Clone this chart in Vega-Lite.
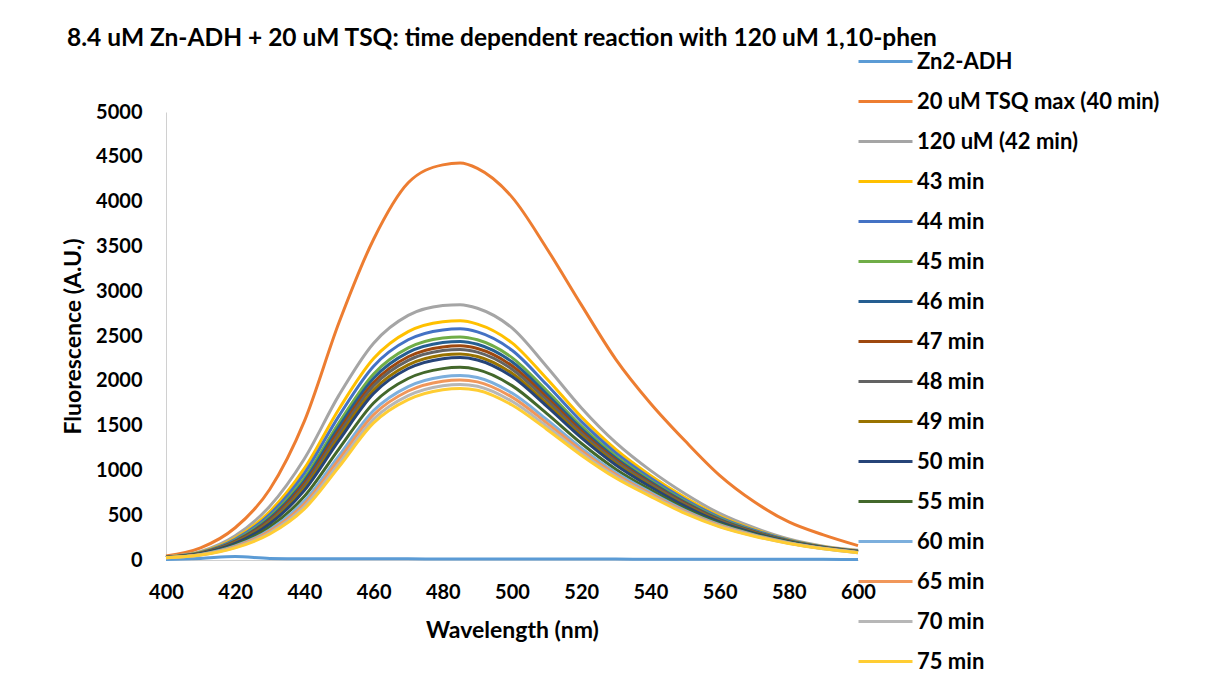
{
"$schema": "https://vega.github.io/schema/vega-lite/v6.json",
"width": 692, "height": 448,
"autosize": {"type": "none"},
"padding": {"left": 166, "top": 112, "right": 351, "bottom": 118},
"background": "white",
"title": {"text": "8.4 uM Zn-ADH + 20 uM TSQ: time dependent reaction with 120 uM 1,10-phen", "font": "Lato", "fontSize": 24.5, "fontWeight": "bold", "color": "#000000", "anchor": "middle", "frame": "group", "offset": -18, "dx": -10},
"datasets": {"spectra": [
{"s":"Zn2-ADH","w":400,"f":5},{"s":"Zn2-ADH","w":410,"f":18},{"s":"Zn2-ADH","w":420,"f":38},{"s":"Zn2-ADH","w":430,"f":18},{"s":"Zn2-ADH","w":440,"f":14},{"s":"Zn2-ADH","w":450,"f":14},{"s":"Zn2-ADH","w":460,"f":13},{"s":"Zn2-ADH","w":470,"f":13},{"s":"Zn2-ADH","w":480,"f":12},{"s":"Zn2-ADH","w":485,"f":12},{"s":"Zn2-ADH","w":490,"f":12},{"s":"Zn2-ADH","w":500,"f":11},{"s":"Zn2-ADH","w":510,"f":11},{"s":"Zn2-ADH","w":520,"f":10},{"s":"Zn2-ADH","w":530,"f":10},{"s":"Zn2-ADH","w":540,"f":9},{"s":"Zn2-ADH","w":550,"f":9},{"s":"Zn2-ADH","w":560,"f":8},{"s":"Zn2-ADH","w":570,"f":8},{"s":"Zn2-ADH","w":580,"f":7},{"s":"Zn2-ADH","w":590,"f":7},{"s":"Zn2-ADH","w":600,"f":6},
{"s":"20 uM TSQ max (40 min)","w":400,"f":45},{"s":"20 uM TSQ max (40 min)","w":410,"f":135},{"s":"20 uM TSQ max (40 min)","w":420,"f":360},{"s":"20 uM TSQ max (40 min)","w":430,"f":790},{"s":"20 uM TSQ max (40 min)","w":440,"f":1550},{"s":"20 uM TSQ max (40 min)","w":450,"f":2650},{"s":"20 uM TSQ max (40 min)","w":460,"f":3580},{"s":"20 uM TSQ max (40 min)","w":470,"f":4210},{"s":"20 uM TSQ max (40 min)","w":480,"f":4410},{"s":"20 uM TSQ max (40 min)","w":485,"f":4430},{"s":"20 uM TSQ max (40 min)","w":490,"f":4370},{"s":"20 uM TSQ max (40 min)","w":500,"f":4050},{"s":"20 uM TSQ max (40 min)","w":510,"f":3480},{"s":"20 uM TSQ max (40 min)","w":520,"f":2850},{"s":"20 uM TSQ max (40 min)","w":530,"f":2240},{"s":"20 uM TSQ max (40 min)","w":540,"f":1750},{"s":"20 uM TSQ max (40 min)","w":550,"f":1330},{"s":"20 uM TSQ max (40 min)","w":560,"f":945},{"s":"20 uM TSQ max (40 min)","w":570,"f":650},{"s":"20 uM TSQ max (40 min)","w":580,"f":425},{"s":"20 uM TSQ max (40 min)","w":590,"f":280},{"s":"20 uM TSQ max (40 min)","w":600,"f":160},
{"s":"120 uM (42 min)","w":400,"f":35},{"s":"120 uM (42 min)","w":410,"f":95},{"s":"120 uM (42 min)","w":420,"f":270},{"s":"120 uM (42 min)","w":430,"f":600},{"s":"120 uM (42 min)","w":440,"f":1130},{"s":"120 uM (42 min)","w":450,"f":1840},{"s":"120 uM (42 min)","w":460,"f":2420},{"s":"120 uM (42 min)","w":470,"f":2730},{"s":"120 uM (42 min)","w":480,"f":2840},{"s":"120 uM (42 min)","w":485,"f":2850},{"s":"120 uM (42 min)","w":490,"f":2810},{"s":"120 uM (42 min)","w":500,"f":2590},{"s":"120 uM (42 min)","w":510,"f":2160},{"s":"120 uM (42 min)","w":520,"f":1700},{"s":"120 uM (42 min)","w":530,"f":1310},{"s":"120 uM (42 min)","w":540,"f":1000},{"s":"120 uM (42 min)","w":550,"f":740},{"s":"120 uM (42 min)","w":560,"f":520},{"s":"120 uM (42 min)","w":570,"f":360},{"s":"120 uM (42 min)","w":580,"f":235},{"s":"120 uM (42 min)","w":590,"f":155},{"s":"120 uM (42 min)","w":600,"f":110},
{"s":"43 min","w":400,"f":33},{"s":"43 min","w":410,"f":87},{"s":"43 min","w":420,"f":244},{"s":"43 min","w":430,"f":540},{"s":"43 min","w":440,"f":1022},{"s":"43 min","w":450,"f":1686},{"s":"43 min","w":460,"f":2248},{"s":"43 min","w":470,"f":2549},{"s":"43 min","w":480,"f":2659},{"s":"43 min","w":485,"f":2670},{"s":"43 min","w":490,"f":2633},{"s":"43 min","w":500,"f":2424},{"s":"43 min","w":510,"f":2025},{"s":"43 min","w":520,"f":1598},{"s":"43 min","w":530,"f":1234},{"s":"43 min","w":540,"f":944},{"s":"43 min","w":550,"f":698},{"s":"43 min","w":560,"f":491},{"s":"43 min","w":570,"f":342},{"s":"43 min","w":580,"f":225},{"s":"43 min","w":590,"f":149},{"s":"43 min","w":600,"f":104},
{"s":"44 min","w":400,"f":32},{"s":"44 min","w":410,"f":83},{"s":"44 min","w":420,"f":231},{"s":"44 min","w":430,"f":510},{"s":"44 min","w":440,"f":968},{"s":"44 min","w":450,"f":1609},{"s":"44 min","w":460,"f":2163},{"s":"44 min","w":470,"f":2458},{"s":"44 min","w":480,"f":2568},{"s":"44 min","w":485,"f":2580},{"s":"44 min","w":490,"f":2546},{"s":"44 min","w":500,"f":2341},{"s":"44 min","w":510,"f":1958},{"s":"44 min","w":520,"f":1547},{"s":"44 min","w":530,"f":1196},{"s":"44 min","w":540,"f":916},{"s":"44 min","w":550,"f":676},{"s":"44 min","w":560,"f":477},{"s":"44 min","w":570,"f":333},{"s":"44 min","w":580,"f":221},{"s":"44 min","w":590,"f":146},{"s":"44 min","w":600,"f":101},
{"s":"45 min","w":400,"f":31},{"s":"45 min","w":410,"f":80},{"s":"45 min","w":420,"f":218},{"s":"45 min","w":430,"f":481},{"s":"45 min","w":440,"f":914},{"s":"45 min","w":450,"f":1532},{"s":"45 min","w":460,"f":2077},{"s":"45 min","w":470,"f":2368},{"s":"45 min","w":480,"f":2478},{"s":"45 min","w":485,"f":2490},{"s":"45 min","w":490,"f":2458},{"s":"45 min","w":500,"f":2259},{"s":"45 min","w":510,"f":1891},{"s":"45 min","w":520,"f":1496},{"s":"45 min","w":530,"f":1158},{"s":"45 min","w":540,"f":888},{"s":"45 min","w":550,"f":655},{"s":"45 min","w":560,"f":462},{"s":"45 min","w":570,"f":323},{"s":"45 min","w":580,"f":216},{"s":"45 min","w":590,"f":143},{"s":"45 min","w":600,"f":98},
{"s":"46 min","w":400,"f":31},{"s":"46 min","w":410,"f":77},{"s":"46 min","w":420,"f":211},{"s":"46 min","w":430,"f":464},{"s":"46 min","w":440,"f":884},{"s":"46 min","w":450,"f":1489},{"s":"46 min","w":460,"f":2029},{"s":"46 min","w":470,"f":2317},{"s":"46 min","w":480,"f":2427},{"s":"46 min","w":485,"f":2440},{"s":"46 min","w":490,"f":2408},{"s":"46 min","w":500,"f":2212},{"s":"46 min","w":510,"f":1853},{"s":"46 min","w":520,"f":1467},{"s":"46 min","w":530,"f":1137},{"s":"46 min","w":540,"f":873},{"s":"46 min","w":550,"f":643},{"s":"46 min","w":560,"f":454},{"s":"46 min","w":570,"f":318},{"s":"46 min","w":580,"f":213},{"s":"46 min","w":590,"f":142},{"s":"46 min","w":600,"f":97},
{"s":"47 min","w":400,"f":30},{"s":"47 min","w":410,"f":75},{"s":"47 min","w":420,"f":204},{"s":"47 min","w":430,"f":447},{"s":"47 min","w":440,"f":854},{"s":"47 min","w":450,"f":1446},{"s":"47 min","w":460,"f":1982},{"s":"47 min","w":470,"f":2268},{"s":"47 min","w":480,"f":2378},{"s":"47 min","w":485,"f":2390},{"s":"47 min","w":490,"f":2360},{"s":"47 min","w":500,"f":2167},{"s":"47 min","w":510,"f":1816},{"s":"47 min","w":520,"f":1439},{"s":"47 min","w":530,"f":1116},{"s":"47 min","w":540,"f":857},{"s":"47 min","w":550,"f":632},{"s":"47 min","w":560,"f":446},{"s":"47 min","w":570,"f":313},{"s":"47 min","w":580,"f":210},{"s":"47 min","w":590,"f":140},{"s":"47 min","w":600,"f":95},
{"s":"48 min","w":400,"f":30},{"s":"48 min","w":410,"f":74},{"s":"48 min","w":420,"f":198},{"s":"48 min","w":430,"f":434},{"s":"48 min","w":440,"f":830},{"s":"48 min","w":450,"f":1412},{"s":"48 min","w":460,"f":1944},{"s":"48 min","w":470,"f":2227},{"s":"48 min","w":480,"f":2337},{"s":"48 min","w":485,"f":2350},{"s":"48 min","w":490,"f":2320},{"s":"48 min","w":500,"f":2130},{"s":"48 min","w":510,"f":1786},{"s":"48 min","w":520,"f":1416},{"s":"48 min","w":530,"f":1099},{"s":"48 min","w":540,"f":845},{"s":"48 min","w":550,"f":622},{"s":"48 min","w":560,"f":440},{"s":"48 min","w":570,"f":309},{"s":"48 min","w":580,"f":208},{"s":"48 min","w":590,"f":139},{"s":"48 min","w":600,"f":94},
{"s":"49 min","w":400,"f":29},{"s":"49 min","w":410,"f":71},{"s":"49 min","w":420,"f":191},{"s":"49 min","w":430,"f":418},{"s":"49 min","w":440,"f":801},{"s":"49 min","w":450,"f":1370},{"s":"49 min","w":460,"f":1897},{"s":"49 min","w":470,"f":2177},{"s":"49 min","w":480,"f":2287},{"s":"49 min","w":485,"f":2300},{"s":"49 min","w":490,"f":2272},{"s":"49 min","w":500,"f":2084},{"s":"49 min","w":510,"f":1748},{"s":"49 min","w":520,"f":1388},{"s":"49 min","w":530,"f":1078},{"s":"49 min","w":540,"f":829},{"s":"49 min","w":550,"f":611},{"s":"49 min","w":560,"f":432},{"s":"49 min","w":570,"f":304},{"s":"49 min","w":580,"f":206},{"s":"49 min","w":590,"f":137},{"s":"49 min","w":600,"f":92},
{"s":"50 min","w":400,"f":29},{"s":"50 min","w":410,"f":70},{"s":"50 min","w":420,"f":185},{"s":"50 min","w":430,"f":404},{"s":"50 min","w":440,"f":777},{"s":"50 min","w":450,"f":1335},{"s":"50 min","w":460,"f":1858},{"s":"50 min","w":470,"f":2137},{"s":"50 min","w":480,"f":2247},{"s":"50 min","w":485,"f":2260},{"s":"50 min","w":490,"f":2233},{"s":"50 min","w":500,"f":2047},{"s":"50 min","w":510,"f":1718},{"s":"50 min","w":520,"f":1366},{"s":"50 min","w":530,"f":1061},{"s":"50 min","w":540,"f":817},{"s":"50 min","w":550,"f":601},{"s":"50 min","w":560,"f":425},{"s":"50 min","w":570,"f":300},{"s":"50 min","w":580,"f":203},{"s":"50 min","w":590,"f":136},{"s":"50 min","w":600,"f":91},
{"s":"55 min","w":400,"f":28},{"s":"55 min","w":410,"f":65},{"s":"55 min","w":420,"f":169},{"s":"55 min","w":430,"f":368},{"s":"55 min","w":440,"f":711},{"s":"55 min","w":450,"f":1241},{"s":"55 min","w":460,"f":1753},{"s":"55 min","w":470,"f":2026},{"s":"55 min","w":480,"f":2136},{"s":"55 min","w":485,"f":2150},{"s":"55 min","w":490,"f":2125},{"s":"55 min","w":500,"f":1946},{"s":"55 min","w":510,"f":1636},{"s":"55 min","w":520,"f":1303},{"s":"55 min","w":530,"f":1014},{"s":"55 min","w":540,"f":783},{"s":"55 min","w":550,"f":575},{"s":"55 min","w":560,"f":408},{"s":"55 min","w":570,"f":289},{"s":"55 min","w":580,"f":198},{"s":"55 min","w":590,"f":133},{"s":"55 min","w":600,"f":88},
{"s":"60 min","w":400,"f":27},{"s":"60 min","w":410,"f":61},{"s":"60 min","w":420,"f":156},{"s":"60 min","w":430,"f":338},{"s":"60 min","w":440,"f":657},{"s":"60 min","w":450,"f":1164},{"s":"60 min","w":460,"f":1668},{"s":"60 min","w":470,"f":1936},{"s":"60 min","w":480,"f":2046},{"s":"60 min","w":485,"f":2060},{"s":"60 min","w":490,"f":2037},{"s":"60 min","w":500,"f":1863},{"s":"60 min","w":510,"f":1569},{"s":"60 min","w":520,"f":1252},{"s":"60 min","w":530,"f":976},{"s":"60 min","w":540,"f":755},{"s":"60 min","w":550,"f":554},{"s":"60 min","w":560,"f":393},{"s":"60 min","w":570,"f":280},{"s":"60 min","w":580,"f":193},{"s":"60 min","w":590,"f":130},{"s":"60 min","w":600,"f":85},
{"s":"65 min","w":400,"f":26},{"s":"65 min","w":410,"f":59},{"s":"65 min","w":420,"f":149},{"s":"65 min","w":430,"f":322},{"s":"65 min","w":440,"f":627},{"s":"65 min","w":450,"f":1122},{"s":"65 min","w":460,"f":1621},{"s":"65 min","w":470,"f":1886},{"s":"65 min","w":480,"f":1996},{"s":"65 min","w":485,"f":2010},{"s":"65 min","w":490,"f":1988},{"s":"65 min","w":500,"f":1818},{"s":"65 min","w":510,"f":1531},{"s":"65 min","w":520,"f":1224},{"s":"65 min","w":530,"f":955},{"s":"65 min","w":540,"f":740},{"s":"65 min","w":550,"f":542},{"s":"65 min","w":560,"f":385},{"s":"65 min","w":570,"f":275},{"s":"65 min","w":580,"f":190},{"s":"65 min","w":590,"f":128},{"s":"65 min","w":600,"f":83},
{"s":"70 min","w":400,"f":25},{"s":"70 min","w":410,"f":57},{"s":"70 min","w":420,"f":141},{"s":"70 min","w":430,"f":305},{"s":"70 min","w":440,"f":597},{"s":"70 min","w":450,"f":1078},{"s":"70 min","w":460,"f":1573},{"s":"70 min","w":470,"f":1835},{"s":"70 min","w":480,"f":1945},{"s":"70 min","w":485,"f":1960},{"s":"70 min","w":490,"f":1939},{"s":"70 min","w":500,"f":1771},{"s":"70 min","w":510,"f":1494},{"s":"70 min","w":520,"f":1195},{"s":"70 min","w":530,"f":934},{"s":"70 min","w":540,"f":724},{"s":"70 min","w":550,"f":531},{"s":"70 min","w":560,"f":377},{"s":"70 min","w":570,"f":270},{"s":"70 min","w":580,"f":187},{"s":"70 min","w":590,"f":126},{"s":"70 min","w":600,"f":81},
{"s":"75 min","w":400,"f":25},{"s":"75 min","w":410,"f":55},{"s":"75 min","w":420,"f":135},{"s":"75 min","w":430,"f":290},{"s":"75 min","w":440,"f":570},{"s":"75 min","w":450,"f":1040},{"s":"75 min","w":460,"f":1530},{"s":"75 min","w":470,"f":1790},{"s":"75 min","w":480,"f":1900},{"s":"75 min","w":485,"f":1915},{"s":"75 min","w":490,"f":1895},{"s":"75 min","w":500,"f":1730},{"s":"75 min","w":510,"f":1460},{"s":"75 min","w":520,"f":1170},{"s":"75 min","w":530,"f":915},{"s":"75 min","w":540,"f":710},{"s":"75 min","w":550,"f":520},{"s":"75 min","w":560,"f":370},{"s":"75 min","w":570,"f":265},{"s":"75 min","w":580,"f":185},{"s":"75 min","w":590,"f":125},{"s":"75 min","w":600,"f":80}
]},
"data": {"name": "spectra"},
"mark": {"type": "line", "strokeWidth": 3, "interpolate": "monotone"},
"encoding": {
  "x": {"field": "w", "type": "quantitative",
    "scale": {"domain": [400, 600], "nice": false, "zero": false},
    "axis": {"title": "Wavelength (nm)", "values": [400,420,440,460,480,500,520,540,560,580,600], "format": "d", "grid": false, "ticks": false, "domainColor": "#D0D0D0", "domainWidth": 1, "labelFont": "Lato", "labelFontSize": 20, "labelFontWeight": "bold", "labelColor": "#000000", "labelPadding": 22, "labelFlush": false, "labelOverlap": false, "titleFont": "Lato", "titleFontSize": 23, "titleFontWeight": "bold", "titleColor": "#000000", "titlePadding": 17}},
  "y": {"field": "f", "type": "quantitative",
    "scale": {"domain": [0, 5000], "nice": false},
    "axis": {"title": "Fluorescence (A.U.)", "values": [0,500,1000,1500,2000,2500,3000,3500,4000,4500,5000], "format": "d", "grid": false, "ticks": false, "domainColor": "#D0D0D0", "domainWidth": 1, "labelFont": "Lato", "labelFontSize": 20, "labelFontWeight": "bold", "labelColor": "#000000", "labelPadding": 24, "labelFlush": false, "labelOverlap": false, "titleFont": "Lato", "titleFontSize": 23, "titleFontWeight": "bold", "titleColor": "#000000", "titlePadding": 10}},
  "color": {"field": "s", "type": "nominal",
    "scale": {"domain": ["Zn2-ADH","20 uM TSQ max (40 min)","120 uM (42 min)","43 min","44 min","45 min","46 min","47 min","48 min","49 min","50 min","55 min","60 min","65 min","70 min","75 min"],
      "range": ["#5B9BD5","#ED7D31","#A5A5A5","#FFC000","#4472C4","#70AD47","#255E91","#9E480E","#636363","#997300","#264478","#43682B","#7CAFDD","#F1975A","#B7B7B7","#FFCD33"]},
    "legend": {"orient": "none", "legendX": 691, "legendY": -79, "title": null, "symbolType": "stroke", "symbolSize": 2916, "symbolStrokeWidth": 3, "labelFont": "Lato", "labelFontSize": 22, "labelFontWeight": "bold", "labelColor": "#000000", "rowPadding": -15.5, "labelOffset": 3, "labelLimit": 400}}
},
"config": {"view": {"stroke": null}}
}
